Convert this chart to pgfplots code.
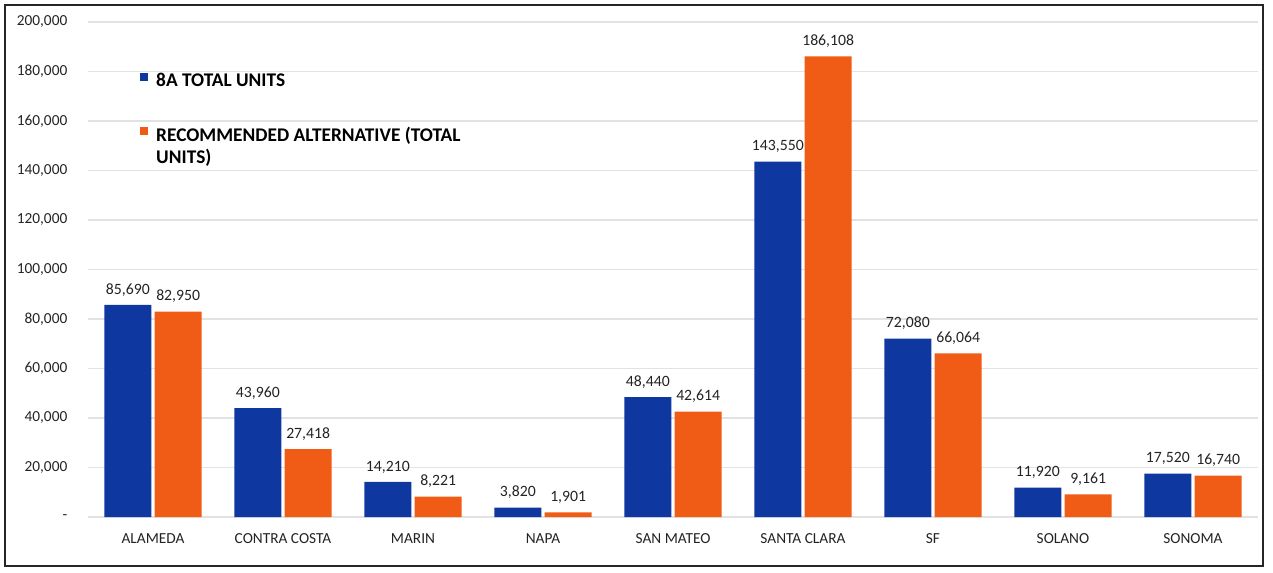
\documentclass[border=0pt]{standalone}
\usepackage{fontspec}
\setmainfont{Carlito}
\usepackage{pgfplots}
\pgfplotsset{compat=1.18}
\definecolor{barblue}{RGB}{14,55,160}
\definecolor{barorange}{RGB}{240,92,22}
\definecolor{gridgray}{RGB}{226,226,226}
\definecolor{labelgray}{RGB}{35,35,35}
\begin{document}
\begin{tikzpicture}
  \begin{axis}[
      at={(0pt,0pt)}, anchor=south west,
      scale only axis,
      width=877.5pt, height=371.25pt,
      ybar=2.5pt, bar width=35.25pt,
      xmin=-0.5, xmax=8.5,
      ymin=0, ymax=200000,
      scaled y ticks=false,
      xtick=data,
      xticklabels={ALAMEDA, CONTRA COSTA, MARIN, NAPA, SAN MATEO, SANTA CLARA, SF, SOLANO, SONOMA},
      ytick={0,20000,...,200000},
      yticklabels={-,{20,000},{40,000},{60,000},{80,000},{100,000},{120,000},{140,000},{160,000},{180,000},{200,000}},
      ticklabel style={font=\fontsize{11.5}{13}\selectfont, text=labelgray},
      yticklabel style={xshift=-12pt},
      xticklabel style={yshift=-9pt},
      major tick length=0pt,
      axis line style={draw=none},
      ymajorgrids=true,
      grid style={gridgray, line width=0.8pt},
      point meta=explicit symbolic,
      nodes near coords={\pgfplotspointmeta},
      every node near coord/.append style={font=\fontsize{11.8}{13}\selectfont, text=labelgray, yshift=3pt},
      legend style={at={(0.041,0.907)}, anchor=north west, draw=none, fill=none,
        font=\fontsize{14.5}{16.5}\selectfont\bfseries, row sep=24pt, column sep=4pt},
      legend cell align=left,
    ]
    \addplot[fill=barblue, draw=none,
      legend image code/.code={\fill[barblue] (0pt,0pt) rectangle (6pt,6pt);}]
      coordinates {(0,85690) [85{,}690] (1,43960) [43{,}960] (2,14210) [14{,}210]
        (3,3820) [3{,}820] (4,48440) [48{,}440] (5,143550) [143{,}550]
        (6,72080) [72{,}080] (7,11920) [11{,}920] (8,17520) [17{,}520]};
    \addlegendentry{8A TOTAL UNITS}
    \addplot[fill=barorange, draw=none,
      legend image code/.code={\fill[barorange] (0pt,0pt) rectangle (6pt,6pt);}]
      coordinates {(0,82950) [82{,}950] (1,27418) [27{,}418] (2,8221) [8{,}221]
        (3,1901) [1{,}901] (4,42614) [42{,}614] (5,186108) [186{,}108]
        (6,66064) [66{,}064] (7,9161) [9{,}161] (8,16740) [16{,}740]};
    \addlegendentry{{\begin{tabular}[t]{@{}l@{}}RECOMMENDED ALTERNATIVE (TOTAL\\UNITS)\end{tabular}}}
  \end{axis}
  \begin{scope}[x=0.75pt, y=0.75pt]
    \path (-88,-55) rectangle (1185,517);
    \draw[line width=1.3pt, black!85] (-83,-49) rectangle (1175,512);
  \end{scope}
\end{tikzpicture}
\end{document}
